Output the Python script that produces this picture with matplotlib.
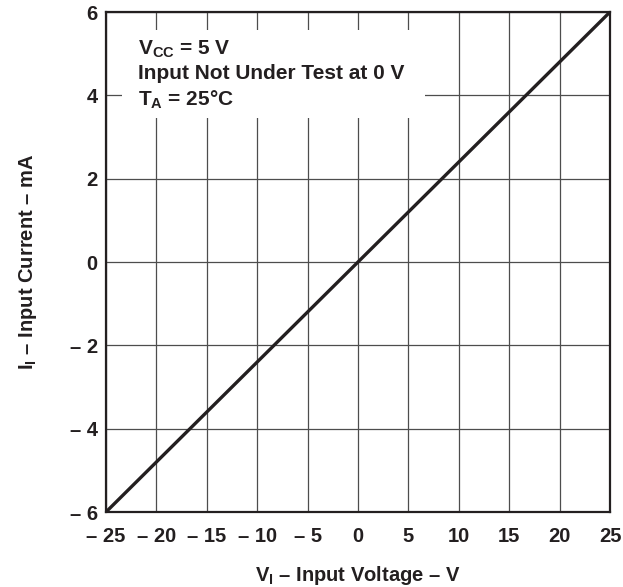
import matplotlib
matplotlib.use("Agg")
import matplotlib.pyplot as plt
from matplotlib.patches import Rectangle

# Input current vs input voltage (straight line through origin)
input_voltage = [-25, 0, 25]
input_current = [-6, 0, 6]

x_ticks = [-25, -20, -15, -10, -5, 0, 5, 10, 15, 20, 25]
y_ticks = [-6, -4, -2, 0, 2, 4, 6]

notes = [r"V$_{CC}$ = 5 V", "Input Not Under Test at 0 V", r"T$_{A}$ = 25°C"]
x_title = "V$_{I}$ \u2013 Input Voltage \u2013 V"
y_title = "I$_{I}$ \u2013 Input Current \u2013 mA"

INK = "#231f20"

plt.rcParams["font.family"] = ["Liberation Sans", "DejaVu Sans"]
plt.rcParams["font.weight"] = "bold"
plt.rcParams["axes.labelweight"] = "bold"
plt.rcParams["mathtext.fontset"] = "custom"
plt.rcParams["mathtext.rm"] = "Liberation Sans:bold"
plt.rcParams["mathtext.it"] = "Liberation Sans:bold"
plt.rcParams["mathtext.bf"] = "Liberation Sans:bold"


def tick_label(v):
    """TI style negative numbers: en dash and a space."""
    return f"\u2013 {abs(v)}" if v < 0 else f"{v}"


fig = plt.figure(figsize=(6.23, 5.87), dpi=100)
ax = fig.add_axes([106 / 623, 1 - 512 / 587, 504 / 623, 500 / 587])

ax.plot(input_voltage, input_current, color=INK, linewidth=2.4,
        solid_capstyle="butt", zorder=4)

ax.set_xlim(-25, 25)
ax.set_ylim(-6, 6)
ax.set_xticks(x_ticks)
ax.set_yticks(y_ticks)
ax.set_xticklabels([tick_label(v) for v in x_ticks], fontweight="bold")
ax.set_yticklabels([tick_label(v) for v in y_ticks], fontweight="bold")
ax.tick_params(axis="both", length=0, labelsize=14.5, colors=INK)
ax.tick_params(axis="x", pad=11)
ax.tick_params(axis="y", pad=6)

ax.grid(True, color="#4d4d4d", linewidth=0.9)
ax.set_axisbelow(True)
for sp in ax.spines.values():
    sp.set_linewidth(1.6)
    sp.set_color(INK)
    sp.set_zorder(5)

# white patch behind the conditions text
ax.add_patch(Rectangle((0.0317, 0.788), 0.601, 0.176, transform=ax.transAxes,
                       facecolor="white", edgecolor="none", zorder=2))
for txt, yy in zip(notes, [0.914, 0.866, 0.812]):
    ax.text(0.0635, yy, txt, transform=ax.transAxes, fontsize=15,
            fontweight="bold", color=INK, va="baseline", ha="left", zorder=3)

ax.set_xlabel(x_title, fontsize=14.5, color=INK, labelpad=13)
ax.set_ylabel(y_title, fontsize=14.5, color=INK, labelpad=22)

fig.savefig("out.png", dpi=100)
